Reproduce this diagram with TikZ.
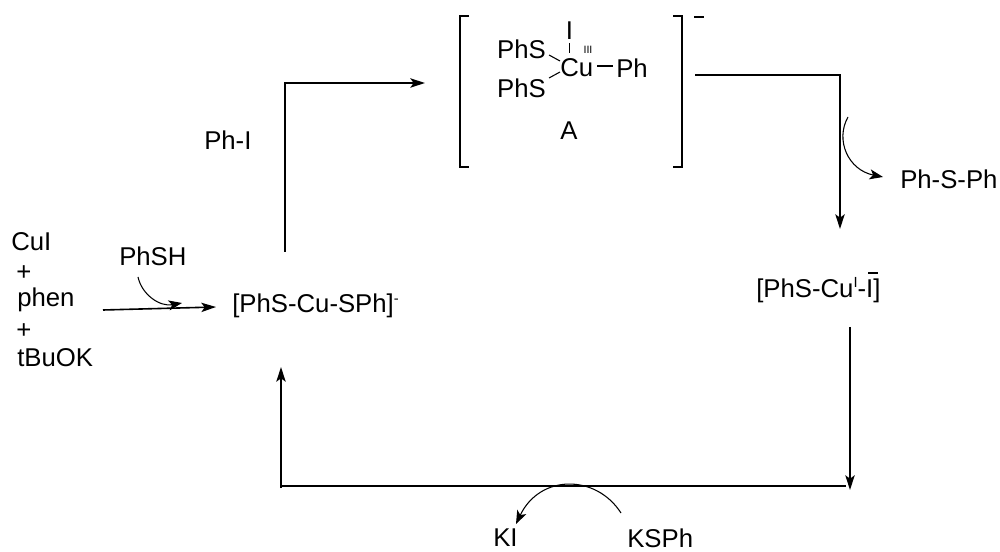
\documentclass[tikz,border=0pt]{standalone}
\usepackage{fontspec}
\setmainfont{Liberation Sans}
\usetikzlibrary{arrows.meta}

\begin{document}
\begin{tikzpicture}[
    x=0.75pt, y=-0.75pt,
    every node/.style={font=\fontsize{19.3pt}{22pt}\selectfont, inner sep=0pt},
    flow/.style={line width=1.2pt, -{Stealth[length=11pt,width=7pt,inset=2.5pt]}},
    plain/.style={line width=1.1pt},
    curved/.style={line width=0.8pt, -{Stealth[length=10pt,width=7.5pt,inset=2.5pt]}},
    bond/.style={line width=0.8pt}
]
\useasboundingbox (0,0) rectangle (1000,552);

% reagents
\node[anchor=west] (CuI) at (11,242) {CuI};
\node (P1) at (24,273) {+};
\node[anchor=west] (phen) at (17,300) {phen};
\node (P2) at (24,331) {+};
\node[anchor=west] (tBuOK) at (17,358) {tBuOK};
\node[anchor=west] (PhSH) at (119,256) {PhSH};

% species on the cycle
\node[anchor=west] (Cat) at (232,306) {[PhS-Cu-SPh]\raisebox{7pt}{\fontsize{11pt}{11pt}\selectfont -}};
\node[anchor=west] (PhI) at (204,140) {Ph-I};
\node[anchor=west] (PhSPh) at (900,179) {Ph-S-Ph};
\node[anchor=west] (CuI2) at (756,290) {[PhS-Cu\raisebox{7pt}{\fontsize{11pt}{11pt}\selectfont I}-I]};
\node[anchor=west] (KI) at (493,538) {KI};
\node[anchor=west] (KSPh) at (627,538) {KSPh};

% complex A
\node[anchor=east] (S1) at (546,49) {PhS};
\node[anchor=east] (S2) at (546,88) {PhS};
\node[anchor=west] (Cu) at (560,68) {Cu};
\node[anchor=west] (Ph) at (616,68) {Ph};
\node (I) at (569.5,31) {I};
\node[font=\fontsize{8pt}{8pt}\selectfont] (Ox) at (588,50) {III};
\node (A) at (569,131) {A};
\draw[bond] (569.5,43) -- (569.5,53);
\draw[bond] ([shift={(3,6)}]S1.east) -- ([shift={(0,-7)}]Cu.west);
\draw[bond] ([shift={(3,-10)}]S2.east) -- ([shift={(0,4)}]Cu.west);
\draw[bond] ([shift={(4,-2)}]Cu.east) -- ([shift={(-3,-2)}]Ph.west);
\draw[plain] (469,16) -- (460,16) -- (460,167) -- (469,167);
\draw[plain] (673,16) -- (682,16) -- (682,167) -- (673,167);
\draw[bond] (694,17) -- (704,17);
\draw[bond] (868,273) -- (878,273);

% cycle
\coordinate (a1) at (285,252);
\coordinate (a2) at (285,83);
\coordinate (a3) at (425,83);
\coordinate (b1) at (695,75);
\coordinate (b2) at (840,75);
\coordinate (b3) at (840,229);
\coordinate (c1) at (850,327);
\coordinate (c2) at (850,490);
\coordinate (d1) at (846,486);
\coordinate (d2) at (282,486);
\coordinate (e1) at (281,488);
\coordinate (e2) at (281,367);
\coordinate (f1) at (103,310);
\coordinate (f2) at (216,307);
\draw[flow] (a1) -- (a2) -- (a3);
\draw[flow] (b1) -- (b2) -- (b3);
\draw[flow] (c1) -- (c2);
\draw[plain] (d1) -- (d2);
\draw[flow] (e1) -- (e2);
\draw[flow] (f1) -- (f2);

% side arrows
\coordinate (g1) at (138,277);
\coordinate (g2) at (182,303);
\coordinate (h1) at (848,117);
\coordinate (h2) at (883,177);
\coordinate (k1) at (621,513);
\coordinate (k2) at (516,524);
\draw[curved] (g1) .. controls (142,295) and (160,307) .. (g2);
\draw[curved] (h1) .. controls (835,140) and (848,170) .. (h2);
\draw[curved] (k1) .. controls (596,474) and (540,474) .. (k2);
\end{tikzpicture}
\end{document}
